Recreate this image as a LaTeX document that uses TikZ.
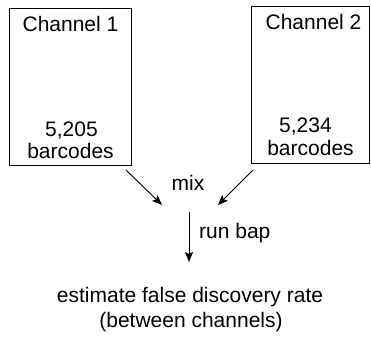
\documentclass[tikz,border=0pt]{standalone}
\usepackage{fontspec}
\setmainfont{Liberation Sans}
\usetikzlibrary{arrows.meta}
\begin{document}
\begin{tikzpicture}[x=1pt,y=-1pt,
  box/.style={draw,line width=0.9pt},
  lbl/.style={font=\fontsize{21}{25}\selectfont,inner sep=0pt,anchor=base},
  arr/.style={line width=0.9pt,-{Stealth[length=10pt,width=8pt,inset=2pt]}}]
\useasboundingbox (0,0) rectangle (371,339);
\draw[box] (9,8) rectangle (131,165);
\draw[box] (251,6) rectangle (369,163);
\node[lbl] (c1) at (70.5,31.5) {Channel 1};
\node[lbl] (n1) at (71.5,136) {5,205};
\node[lbl] (b1) at (70.5,158.3) {barcodes};
\node[lbl] (c2) at (313.5,29.5) {Channel 2};
\node[lbl] (n2) at (305.5,132.3) {5,234};
\node[lbl] (b2) at (310.5,155) {barcodes};
\node[lbl] (mix) at (188,190) {mix};
\node[lbl,anchor=base west] (run) at (199,238) {run bap};
\node[lbl] (est) at (190,302) {estimate false discovery rate};
\node[lbl] (bet) at (191,327.5) {(between channels)};
\coordinate (a1s) at (126,170);
\coordinate (a1e) at (162,205);
\coordinate (a2s) at (253,170);
\coordinate (a2e) at (218,205);
\coordinate (a3s) at (189,212);
\coordinate (a3e) at (189,262);
\draw[arr] (a1s) -- (a1e);
\draw[arr] (a2s) -- (a2e);
\draw[arr] (a3s) -- (a3e);
\end{tikzpicture}
\end{document}
